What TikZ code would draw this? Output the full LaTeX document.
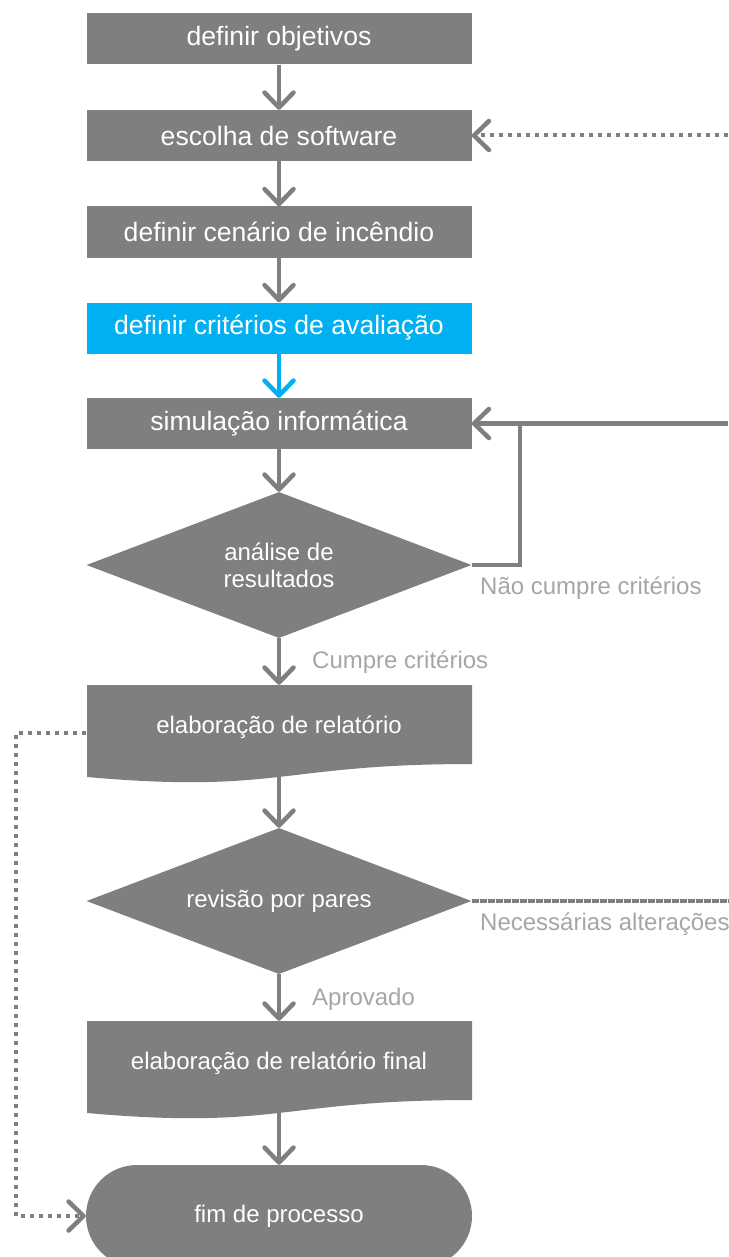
\documentclass[tikz,border=0pt]{standalone}
\usepackage{fontspec}
\setmainfont{Liberation Sans}
\usetikzlibrary{arrows.meta,shapes.geometric}
\definecolor{boxgray}{HTML}{7F7F7F}
\definecolor{lblgray}{HTML}{A6A6A6}
\definecolor{cblue}{HTML}{00B0F0}
\begin{document}
\begin{tikzpicture}[x=1pt,y=-1pt,
  txt/.style={font=\fontsize{24}{27}\selectfont},
  proc/.style={font=\fontsize{26.6}{30}\selectfont, rectangle, fill=boxgray, text=white, minimum width=385pt, minimum height=51pt, inner sep=0pt},
  dec/.style={txt, diamond, aspect=2.64, fill=boxgray, text=white, minimum width=385pt, minimum height=146pt, inner sep=0pt, align=center},
  doctext/.style={txt, rectangle, text=white, minimum width=385pt, minimum height=84pt, inner sep=0pt},
  term/.style={txt, rectangle, rounded corners=51pt, fill=boxgray, text=white, minimum width=386pt, minimum height=102pt, inner sep=0pt},
  lbl/.style={txt, text=lblgray, anchor=west, inner sep=0pt},
  flow/.style={draw=boxgray, line width=4.5pt, -{Straight Barb[round,length=15pt,width=29pt]}},
  plainline/.style={draw=boxgray, line width=4.5pt},
  dotline/.style={draw=boxgray, line width=4pt, dash pattern=on 4pt off 5pt},
  dotflow/.style={dotline, -{Straight Barb[round,length=15pt,width=29pt,line width=4.5pt]}}
]
\useasboundingbox (0,0) rectangle (728,1257);
\fill[white] (0,0) rectangle (728,1257);

% document shapes (fills)
\fill[boxgray] (87,685) -- (472,685) -- (472,764) .. controls (279.5,764) and (279.5,794) .. (87,777) -- cycle;
\fill[boxgray] (87,1021) -- (472,1021) -- (472,1100) .. controls (279.5,1100) and (279.5,1130) .. (87,1113) -- cycle;

\node[proc] (b1) at (279,39) {definir objetivos};
\node[proc] (b2) at (279,135.5) {escolha de software};
\node[proc] (b3) at (279,232) {definir cenário de incêndio};
\node[proc, fill=cblue] (b4) at (279,328) {definir critérios de avaliação};
\node[proc] (b5) at (279,423.5) {simulação informática};
\node[dec] (d1) at (279,565) {análise de\\resultados};
\node[doctext] (doc1) at (279,727) {elaboração de relatório};
\node[dec] (d2) at (279,901) {revisão por pares};
\node[doctext] (doc2) at (279,1063) {elaboração de relatório final};
\node[term] (t) at (279,1216) {fim de processo};

\coordinate (e1) at (728,135.5);
\coordinate (e2) at (728,423.5);
\coordinate (j1) at (520,423.5);
\coordinate (e3) at (728,901);

\draw[flow] (b1) -- (b2);
\draw[flow] (b2) -- (b3);
\draw[flow] (b3) -- (b4);
\draw[flow, draw=cblue] (b4) -- (b5);
\draw[flow] (b5) -- (d1);
\draw[flow] (d1) -- (doc1);
\draw[flow] (doc1.south) -- (d2);
\draw[flow] (d2) -- (doc2);
\draw[flow] (doc2.south) -- (t);

\draw[dotflow] (e1) -- (b2);
\draw[flow] (e2) -- (b5);
\draw[plainline] (d1.east) -| (j1);
\draw[plainline, dash pattern=on 7pt off 1pt] (d2.east) -- (e3);
\draw[dotflow] ([yshift=-6pt]doc1.west) -- ++(-70,0) |- (t.west);

\node[lbl] (l1) at (480,588) {Não cumpre critérios};
\node[lbl] (l2) at (312,662) {Cumpre critérios};
\node[lbl] (l3) at (480,924) {Necessárias alterações};
\node[lbl] (l4) at (312,999) {Aprovado};
\end{tikzpicture}
\end{document}
